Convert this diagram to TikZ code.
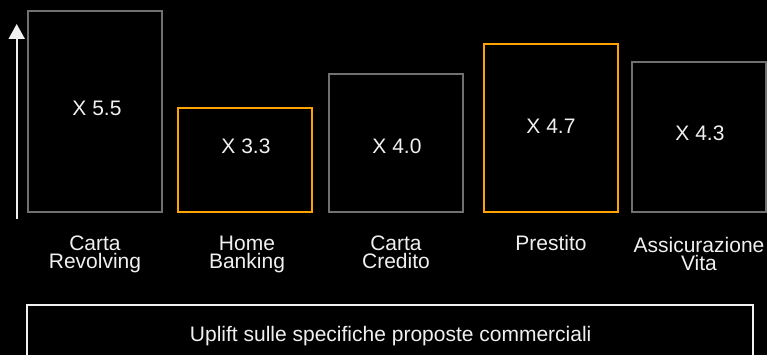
\documentclass[tikz,border=0pt]{standalone}
\usepackage{fontspec}
\setmainfont{Liberation Sans}
\usepackage{tikz}
\usetikzlibrary{arrows.meta}

\definecolor{boxgray}{RGB}{112,112,112}
\definecolor{boxorange}{RGB}{255,163,0}
\definecolor{txtwhite}{RGB}{240,240,240}

\begin{document}
\begin{tikzpicture}[x=1pt, y=-1pt,
			grybox/.style={draw=boxgray, line width=2pt, minimum width=134pt, inner sep=0pt},
			orgbox/.style={draw=boxorange, line width=2pt, minimum width=134pt, inner sep=0pt},
			val/.style={text=txtwhite, font=\fontsize{21}{18}\selectfont, anchor=base, inner sep=0pt},
			lbl/.style={text=txtwhite, font=\fontsize{21}{18}\selectfont, align=center, anchor=base, inner sep=0pt}
		]
		\fill[black] (0,0) rectangle (767,355);
		\useasboundingbox (0,0) rectangle (767,355);

		% axis arrow
		\coordinate (axbot) at (16.7,219);
		\coordinate (axtop) at (16.7,24);
		\draw[-{Triangle[width=16pt,length=15pt]}, line width=2pt, txtwhite] (axbot) -- (axtop);

		\node[grybox, minimum height=201pt] (revolving) at (95,111.5) {};
		\node[val] (vrevolving) at (97,116) {X 5.5};
		\node[lbl] (lrevolving) at (95,268) {Carta\\Revolving};

		\node[orgbox, minimum height=103.4pt] (banking) at (245,160) {};
		\node[val] (vbanking) at (246,154) {X 3.3};
		\node[lbl] (lbanking) at (247,268) {Home\\Banking};

		\node[grybox, minimum height=137.4pt] (credito) at (396,143) {};
		\node[val] (vcredito) at (397,153.3) {X 4.0};
		\node[lbl] (lcredito) at (396,268) {Carta\\Credito};

		\node[orgbox, minimum height=168.3pt] (prestito) at (550.8,127.8) {};
		\node[val] (vprestito) at (551,134) {X 4.7};
		\node[lbl] (lprestito) at (551,250) {Prestito};

		\node[grybox, minimum height=150.5pt] (vita) at (698.7,137.2) {};
		\node[val] (vvita) at (700,141) {X 4.3};
		\node[lbl] (lvita) at (699,270) {Assicurazione\\Vita};

		\node[draw=txtwhite, line width=2pt, minimum width=725.7pt, minimum height=60.3pt, inner sep=0pt] (uplift) at (390.2,334.9) {};
		\node[val] (tuplift) at (390.7,341) {Uplift sulle specifiche proposte commerciali};

	\end{tikzpicture}
\end{document}
